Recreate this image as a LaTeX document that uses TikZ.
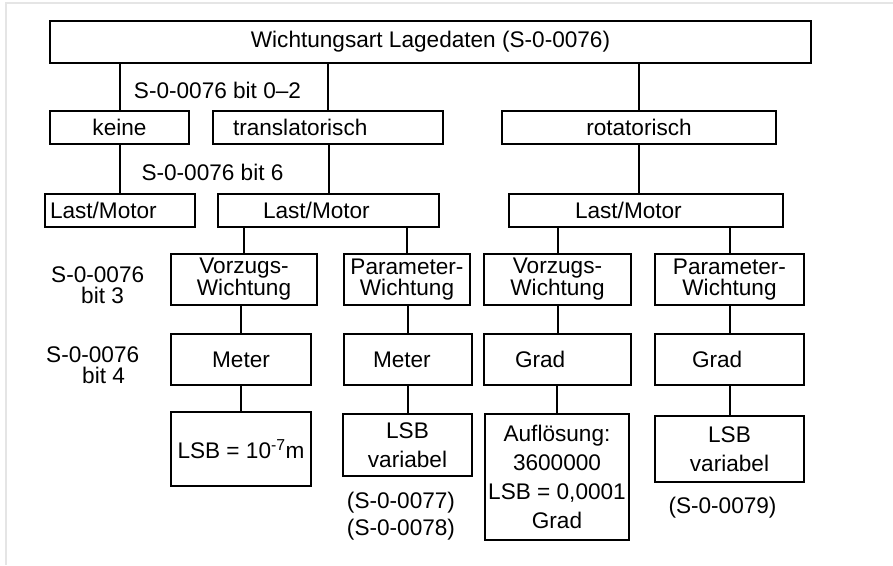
\documentclass[tikz,border=0pt]{standalone}
\usepackage{fontspec}
\setmainfont{Liberation Sans}
\usepackage{tikz}

\begin{document}
\begin{tikzpicture}[
  x=1pt, y=-1pt,
  font=\fontsize{22.6}{26}\selectfont,
  blk/.style={draw, line width=2pt, inner sep=2pt, align=center},
  lbl/.style={inner sep=0pt, align=center},
  sz/.style 2 args={minimum width=#1pt, minimum height=#2pt},
  tight/.style={font=\fontsize{22.6}{21}\selectfont},
  loose/.style={font=\fontsize{22.6}{29}\selectfont},
  lft/.style={align=left, text width=#1}
]
\useasboundingbox (0,0) rectangle (893,565);
\draw[black!10, line width=1.5pt] (6,565) -- (6,3) -- (893,3);

\node[blk, sz={761}{42}] (titel) at (430.5,42) {Wichtungsart Lagedaten (S-0-0076)};
\node[blk, sz={139}{33}] (keine) at (119.5,127.5) {keine};
\node[blk, sz={230}{33}, lft=190pt] (transl) at (328,127.5) {translatorisch};
\node[blk, sz={274}{33}] (rotat) at (639,127.5) {rotatorisch};
\node[blk, sz={150}{33}, lft=140pt] (lmA) at (120,210.5) {Last/Motor};
\node[blk, sz={221}{33}, lft=131pt] (lmB) at (328.5,210.5) {Last/Motor};
\node[blk, sz={274}{33}, lft=142pt] (lmC) at (646,210.5) {Last/Motor};

\node[blk, tight, sz={146}{51}] (vorzT) at (244,279.5) {Vorzugs-\\Wichtung};
\node[blk, tight, sz={126}{51}] (paraT) at (407,279.5) {Parameter-\\Wichtung};
\node[blk, tight, sz={147}{51}] (vorzR) at (557.5,279.5) {Vorzugs-\\Wichtung};
\node[blk, tight, sz={149}{51}] (paraR) at (729.5,279.5) {Parameter-\\Wichtung};

\node[blk, sz={140}{51}] (meterT) at (241,359.5) {Meter};
\node[blk, sz={128}{51}, lft=70pt] (meterP) at (408,359.5) {Meter};
\node[blk, sz={147}{51}, lft=85pt] (gradV) at (557.5,359.5) {Grad};
\node[blk, sz={149}{51}, lft=75pt] (gradP) at (729.5,359.5) {Grad};

\node[blk, sz={140}{74}] (lsbT) at (241,449) {LSB = 10\textsuperscript{-7}m};
\node[blk, loose, sz={129}{62}] (lsbP) at (407.5,445) {LSB\\variabel};
\node[blk, loose, sz={144}{126}] (aufl) at (557,477) {Auflösung:\\3600000\\LSB = 0,0001\\Grad};
\node[blk, loose, sz={149}{66}] (lsbR) at (729.5,449) {LSB\\variabel};

\node[lbl] (bitA) at (217.5,90) {S-0-0076 bit 0–2};
\node[lbl] (bitB) at (212.5,172.5) {S-0-0076 bit 6};
\node[lbl, tight, align=left, anchor=west] (bitC) at (51,285) {S-0-0076\\\hspace*{30pt}bit 3};
\node[lbl, tight, align=left, anchor=west] (bitD) at (46,365) {S-0-0076\\\hspace*{36pt}bit 4};
\node[lbl, font=\fontsize{22.6}{27}\selectfont] (parT) at (401,516) {(S-0-0077)\\(S-0-0078)};
\node[lbl] (parR) at (722.5,508) {(S-0-0079)};

\foreach \p/\c in {titel/keine, titel/transl, titel/rotat, keine/lmA, transl/lmB,
    lmB/vorzT, lmB/paraT, lmC/vorzR, lmC/paraR, vorzT/meterT, paraT/meterP,
    vorzR/gradV, paraR/gradP, meterT/lsbT, meterP/lsbP, gradV/aufl, gradP/lsbR}
  \draw[line width=2pt] (\c.north) -- (\c.north |- \p.south);
\draw[line width=2pt] (rotat.south) -- (rotat.south |- lmC.north);
\end{tikzpicture}
\end{document}
